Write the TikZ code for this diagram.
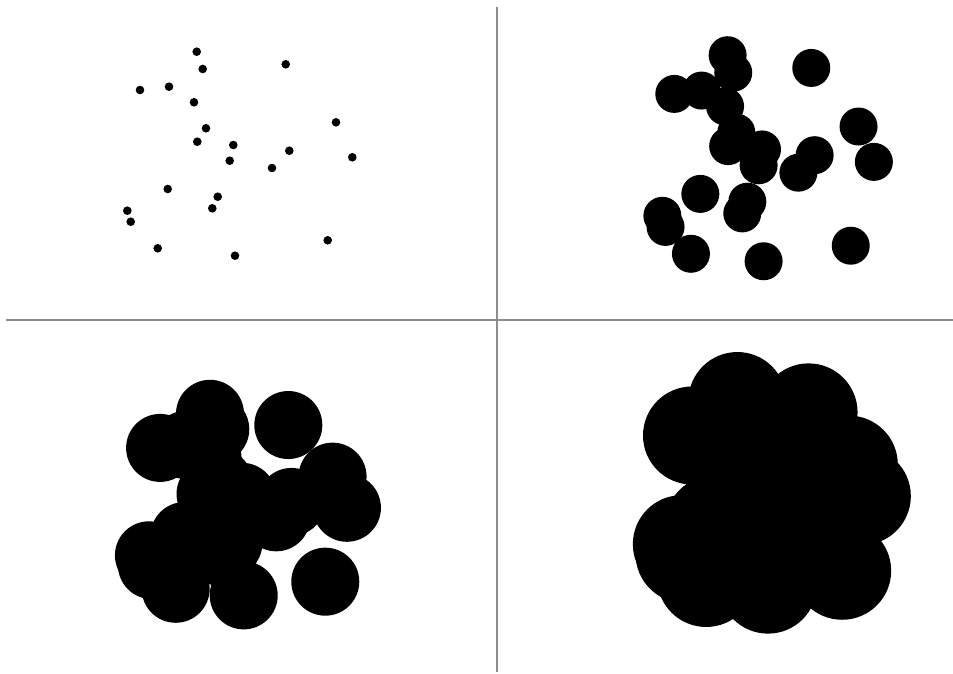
\documentclass[tikz,border=0pt]{standalone}
\usetikzlibrary{calc}
\definecolor{sep}{HTML}{8C8C8C}
\tikzset{
  divider/.style={draw=sep, line width=2pt},
  blob/.style={fill=black}
}
\newcommand{\seeds}{196.7/51.7, 202.7/69, 285.7/64.3, 140/90, 169/86.7, 194/102.3,
  206/128.3, 197.3/141.7, 233.3/145, 229.7/160.7, 336/122.3, 289.3/150.7,
  352.3/157.3, 272/168, 167.7/189, 217.7/196.7, 212.3/208.3, 127.3/210.7,
  130.7/221.7, 157.7/248.3, 235/255.7, 327.7/240.3}
\begin{document}
\begin{tikzpicture}[x=1pt,y=-1pt]
\useasboundingbox (0,0) rectangle (953,674);
\fill[white] (0,0) rectangle (953,674);
% quadrant dividers
\coordinate (vt) at (497,7);
\coordinate (vb) at (497,672);
\coordinate (hl) at (6,320);
\coordinate (hr) at (953,320);
\draw[divider] (vt) -- (vb);
\draw[divider] (hl) -- (hr);
% top-left: seed points
\foreach \px/\py in \seeds {
  \fill[blob] (\px,\py) circle[radius=4.3pt];
}
% top-right: small disks
\foreach \px/\py in \seeds {
  \fill[blob] ({0.94*\px+542.7},{1.01*\py+3}) circle[radius=19pt];
}
% bottom-left: larger disks
\foreach \px/\py in \seeds {
  \fill[blob] ({0.88*\px+36.9},{0.89*\py+367.8}) circle[radius=34pt];
}
% bottom-right: largest disks
\foreach \px/\py in \seeds {
  \fill[blob] ({0.8*\px+580},{0.9*\py+354.5}) circle[radius=49pt];
}
\end{tikzpicture}
\end{document}
